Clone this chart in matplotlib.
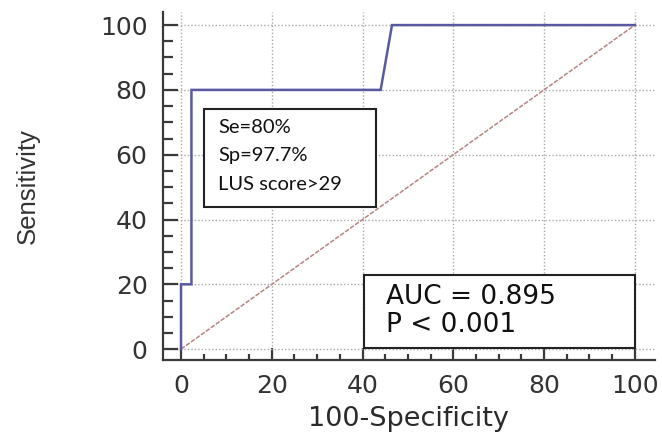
import matplotlib
matplotlib.use("Agg")
import matplotlib.pyplot as plt
from matplotlib.ticker import MultipleLocator
from matplotlib.patches import Rectangle

# ROC curve points (100-Specificity, Sensitivity)
roc_x = [0, 0, 2.3, 2.3, 44, 46.5, 100]
roc_y = [0, 20, 20, 80, 80, 100, 100]
diag_x = [0, 100]
diag_y = [0, 100]
major_ticks = [0, 20, 40, 60, 80, 100]
box1_lines = ["Se=80%", "Sp=97.7%", "LUS score>29"]
box2_lines = ["AUC = 0.895", "P < 0.001"]

fig = plt.figure(figsize=(6.62, 4.33), dpi=100)
ax = fig.add_axes([0.246, 0.169, 0.743, 0.803])

ax.set_xlim(-4, 104.4)
ax.set_ylim(-3.3, 104)

ax.plot(diag_x, diag_y, color="#b58585", lw=1.1, linestyle=(0, (3, 1)), zorder=2)
ax.plot(roc_x, roc_y, color="#5a5aa0", lw=1.8, zorder=3, solid_joinstyle="miter")

ax.set_xticks(major_ticks)
ax.set_yticks(major_ticks)
ax.xaxis.set_minor_locator(MultipleLocator(5))
ax.yaxis.set_minor_locator(MultipleLocator(5))
ax.grid(True, which="major", linestyle=(0, (1, 1.5)), color="#a8a8a8", lw=1.0, zorder=1)

for s in ["top", "right"]:
    ax.spines[s].set_visible(False)
for s in ["left", "bottom"]:
    ax.spines[s].set_color("#3a3a3a")
    ax.spines[s].set_linewidth(1.6)

ax.tick_params(axis="y", which="major", direction="in", length=11, width=1.6, color="#3a3a3a", pad=11)
ax.tick_params(axis="y", which="minor", direction="in", length=7, width=1.6, color="#3a3a3a")
ax.tick_params(axis="x", which="major", direction="in", length=9, width=1.6, color="#3a3a3a", pad=10)
ax.tick_params(axis="x", which="minor", direction="in", length=4, width=1.6, color="#3a3a3a")
for lab in ax.get_xticklabels() + ax.get_yticklabels():
    lab.set_fontfamily("DejaVu Sans")
    lab.set_fontsize(18)
    lab.set_color("#333333")

ax.set_xlabel("100-Specificity", fontfamily="DejaVu Sans", fontsize=19.5, color="#2a2a2a", labelpad=6)
ax.set_ylabel("Sensitivity", fontfamily="Liberation Sans", fontsize=18.5, color="#333333", labelpad=43)

# Box 1 (Se/Sp/cutoff)
ax.add_patch(Rectangle((5, 44), 38, 30, facecolor="white", edgecolor="#222222", lw=1.5, zorder=4))
for i, t in enumerate(box1_lines):
    ax.text(8.2, 68.3 - i * 8.7, t, fontfamily="Lato", fontsize=14.5, color="#111111",
            va="center", ha="left", zorder=5)

# Box 2 (AUC)
ax.add_patch(Rectangle((40.4, 0.3), 59.6, 22.6, facecolor="white", edgecolor="#222222", lw=1.5, zorder=4))
ax.text(45.2, 16.1, box2_lines[0], fontfamily="DejaVu Sans", fontsize=19, color="#111111",
        va="center", ha="left", zorder=5)
ax.text(45.2, 7.5, box2_lines[1], fontfamily="DejaVu Sans", fontsize=19, color="#111111",
        va="center", ha="left", zorder=5)

fig.savefig("out.png", dpi=100, facecolor="white")
